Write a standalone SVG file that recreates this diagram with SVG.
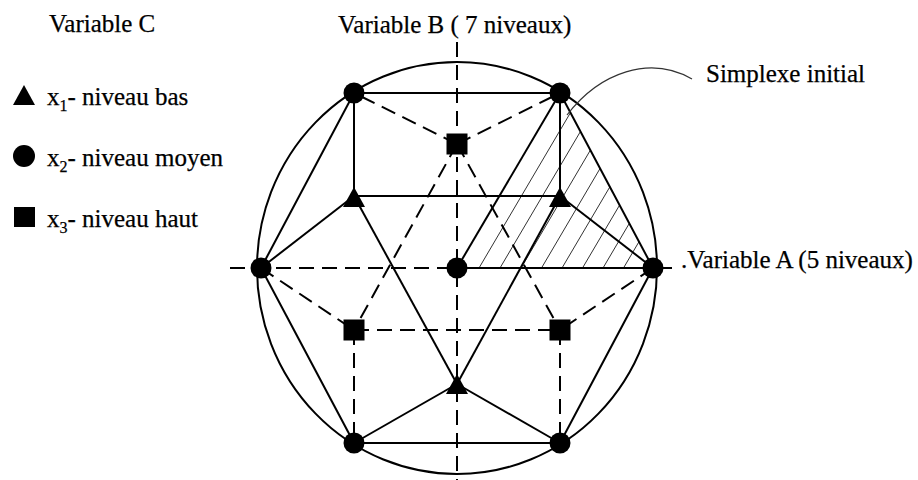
<svg xmlns="http://www.w3.org/2000/svg" width="918" height="480" viewBox="0 0 918 480">
<style>
  .t { font-family: "Liberation Serif", "Times New Roman", Times, serif; font-size: 25px; fill: #000; stroke: #000; stroke-width: 0.25; }
  .sub { font-size: 16px; }
  .solid { stroke: #000; stroke-width: 2; fill: none; }
  .dash { stroke: #000; stroke-width: 2; fill: none; stroke-dasharray: 15 8; }
  .hatch { stroke: #333; stroke-width: 1; }
  .mk { fill: #000; }
</style>
<rect width="918" height="480" fill="#fff"/>

<g id="hatching">
  <line class="hatch" x1="479" y1="268" x2="570.5" y2="112.6"/>
  <line class="hatch" x1="500" y1="268" x2="580.5" y2="131.4"/>
  <line class="hatch" x1="521" y1="268" x2="590.4" y2="150.1"/>
  <line class="hatch" x1="541.5" y1="268" x2="600.1" y2="168.4"/>
  <line class="hatch" x1="562" y1="268" x2="609.9" y2="186.8"/>
  <line class="hatch" x1="582.5" y1="268" x2="619.6" y2="205.1"/>
  <line class="hatch" x1="603" y1="268" x2="629.3" y2="223.4"/>
  <line class="hatch" x1="623.5" y1="268" x2="639" y2="241.7"/>
  <line class="hatch" x1="644" y1="268" x2="648.7" y2="260"/>
</g>

<g id="boundary">
  <ellipse class="solid" cx="457" cy="268" rx="200" ry="206"/>
</g>

<g id="connectors">
  <line class="dash" x1="457" y1="42" x2="457" y2="480"/>
  <line class="dash" x1="230" y1="268" x2="457" y2="268"/>
  <line class="solid" x1="457" y1="268" x2="672" y2="268"/>
  <line class="solid" x1="354" y1="93" x2="560" y2="93"/>
  <line class="solid" x1="354" y1="93" x2="354" y2="196"/>
  <line class="solid" x1="560" y1="93" x2="560" y2="196"/>
  <line class="solid" x1="354" y1="196" x2="560" y2="196"/>
  <line class="solid" x1="354" y1="93" x2="261" y2="268"/>
  <line class="solid" x1="354" y1="196" x2="261" y2="268"/>
  <line class="solid" x1="354" y1="196" x2="457" y2="384"/>
  <line class="solid" x1="560" y1="93" x2="653" y2="268"/>
  <line class="solid" x1="560" y1="196" x2="653" y2="268"/>
  <line class="solid" x1="560" y1="196" x2="457" y2="384"/>
  <line class="solid" x1="560" y1="93" x2="457" y2="268"/>
  <line class="solid" x1="261" y1="268" x2="354" y2="443"/>
  <line class="solid" x1="653" y1="268" x2="560" y2="443"/>
  <line class="solid" x1="457" y1="384" x2="354" y2="443"/>
  <line class="solid" x1="457" y1="384" x2="560" y2="443"/>
  <line class="solid" x1="354" y1="443" x2="560" y2="443"/>
  <line class="dash" x1="457" y1="144" x2="354" y2="93"/>
  <line class="dash" x1="457" y1="144" x2="560" y2="93"/>
  <line class="dash" x1="457" y1="144" x2="354" y2="330"/>
  <line class="dash" x1="457" y1="144" x2="560" y2="330"/>
  <line class="dash" x1="261" y1="268" x2="354" y2="330"/>
  <line class="dash" x1="653" y1="268" x2="560" y2="330"/>
  <line class="dash" x1="354" y1="330" x2="560" y2="330"/>
  <line class="dash" x1="354" y1="330" x2="354" y2="443"/>
  <line class="dash" x1="560" y1="330" x2="560" y2="443"/>
  <path d="M 567 115 C 600 72 650 55 692 79" fill="none" stroke="#333" stroke-width="1.2"/>
</g>

<g id="n-top-left"><circle class="mk" cx="354" cy="93" r="10.5"/></g>
<g id="n-top-right"><circle class="mk" cx="560" cy="93" r="10.5"/></g>
<g id="n-left"><circle class="mk" cx="261" cy="268" r="10.5"/></g>
<g id="n-center"><circle class="mk" cx="457" cy="268" r="10.5"/></g>
<g id="n-right"><circle class="mk" cx="653" cy="268" r="10.5"/></g>
<g id="n-bottom-left"><circle class="mk" cx="354" cy="443" r="10.5"/></g>
<g id="n-bottom-right"><circle class="mk" cx="560" cy="443" r="10.5"/></g>
<g id="sq-top"><rect class="mk" x="446.5" y="133.5" width="21" height="21"/></g>
<g id="sq-left"><rect class="mk" x="343.5" y="319.5" width="21" height="21"/></g>
<g id="sq-right"><rect class="mk" x="549.5" y="319.5" width="21" height="21"/></g>
<g id="tri-left"><polygon class="mk" points="354,187 343,207 365,207"/></g>
<g id="tri-right"><polygon class="mk" points="560,187 549,207 571,207"/></g>
<g id="tri-bottom"><polygon class="mk" points="457,374 446,394 468,394"/></g>

<g id="legend" font-family="Liberation Serif, serif">
  <text class="t" x="49" y="32">Variable C</text>
  <polygon class="mk" points="24,85 13,105 35,105"/>
  <text class="t" x="47" y="105">x<tspan class="sub" dy="6">1</tspan><tspan dy="-6">- niveau bas</tspan></text>
  <circle class="mk" cx="24" cy="156" r="11"/>
  <text class="t" x="47" y="166">x<tspan class="sub" dy="6">2</tspan><tspan dy="-6">- niveau moyen</tspan></text>
  <rect class="mk" x="14" y="207" width="21" height="20"/>
  <text class="t" x="47" y="227">x<tspan class="sub" dy="6">3</tspan><tspan dy="-6">- niveau haut</tspan></text>
</g>

<g id="labels" font-family="Liberation Serif, serif">
  <text class="t" x="338" y="33">Variable B ( 7 niveaux)</text>
  <text class="t" x="706" y="82">Simplexe initial</text>
  <text class="t" x="681" y="268">.Variable A (5 niveaux)</text>
</g>
</svg>
